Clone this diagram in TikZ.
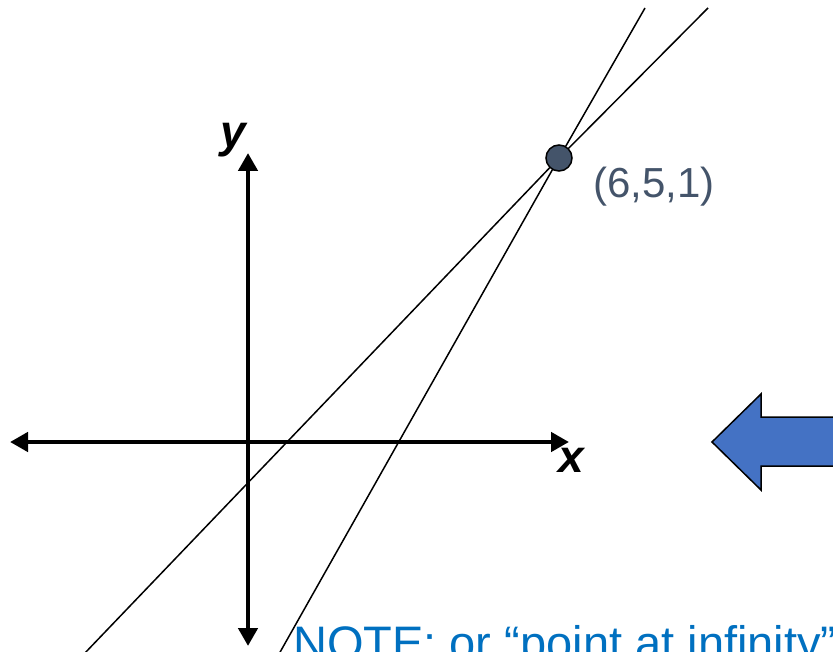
\documentclass[tikz,border=0pt]{standalone}
\usepackage{fontspec}
\setmainfont{Liberation Sans}
\usetikzlibrary{arrows.meta}
\definecolor{slate}{HTML}{44546A}
\definecolor{blockblue}{HTML}{4472C4}
\definecolor{noteblue}{HTML}{0070C0}
\begin{document}
\begin{tikzpicture}[x=1pt,y=-1pt,
  axis/.style={line width=4.5pt,-{Triangle[length=18pt,width=19pt]}},
  thinline/.style={line width=1.5pt,black},
  axlabel/.style={font=\fontsize{46}{50}\selectfont\bfseries\itshape,inner sep=0pt},
  ptlabel/.style={font=\fontsize{42}{46}\selectfont,text=slate,inner sep=0pt},
  notetext/.style={font=\fontsize{47}{52}\selectfont,text=noteblue,inner sep=0pt}]
\useasboundingbox (0,0) rectangle (833,652);
\clip (0,0) rectangle (833,652);
% axes
\coordinate (O) at (248,442);
\coordinate (xl) at (10,442);
\coordinate (xr) at (569,442);
\coordinate (yt) at (248,153);
\coordinate (yb) at (248,646);
\draw[axis] (O) -- (xl);
\draw[axis] (O) -- (xr);
\draw[axis] (O) -- (yt);
\draw[axis] (O) -- (yb);
\node[axlabel,anchor=base] (ylab) at (233,148) {y};
\node[axlabel,anchor=base] (xlab) at (571,472) {x};
% lines through the point
\coordinate (P) at (559,158);
\coordinate (a1) at (708,8);
\coordinate (a2) at (84,654);
\coordinate (b1) at (645,8);
\coordinate (b2) at (279,654);
\draw[thinline] (a1) -- (P) -- (a2);
\draw[thinline] (b1) -- (P) -- (b2);
\node[circle,draw=black,line width=1.5pt,fill=slate,minimum size=26pt,inner sep=0pt] (pt) at (P) {};
\node[ptlabel,anchor=base west] (plab) at (593,198) {(6,5,1)};
% block arrow
\draw[fill=blockblue,line width=1.5pt,line join=miter]
  (712,442) -- (761,394) -- (761,417) -- (845,417) -- (845,466) -- (761,466) -- (761,490) -- cycle;
% note
\node[notetext,anchor=base west] (note) at (293,659) {NOTE: or “point at infinity”};
\end{tikzpicture}
\end{document}
